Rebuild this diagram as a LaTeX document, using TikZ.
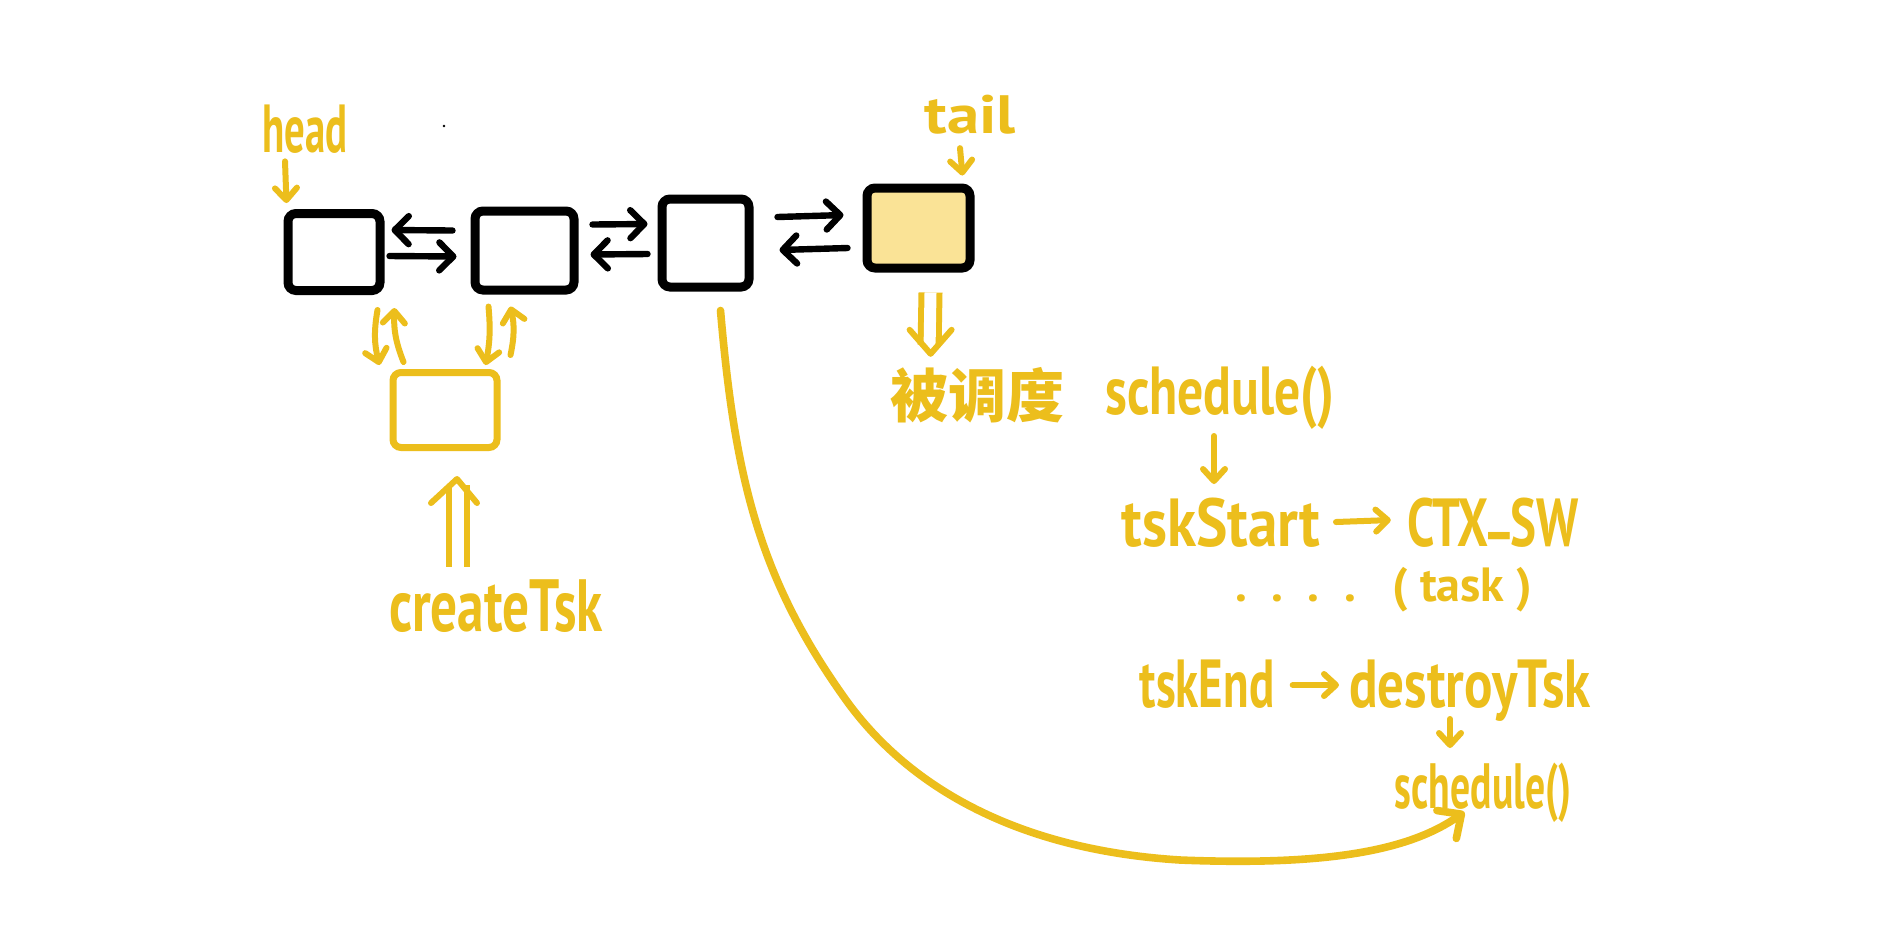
\documentclass[tikz,border=0pt]{standalone}
\usepackage{fontspec}
\usepackage{graphicx}
\setmainfont{PT Sans}
\newfontfamily\cjk{Noto Sans CJK SC}
\usetikzlibrary{arrows.meta,calc,backgrounds}
\definecolor{yel}{RGB}{236,190,28}
\definecolor{tailfill}{RGB}{250,227,150}
\definecolor{tailglow}{RGB}{252,236,190}
\newcommand{\nar}[2]{\scalebox{#1}[1]{#2}}
\begin{document}
\begin{tikzpicture}[x=0.5pt,y=-0.5pt,
  box/.style={draw=black, line width=4.5pt, rounded corners=4pt, inner sep=0pt},
  newbox/.style={draw=yel, line width=3.5pt, rounded corners=4pt, inner sep=0pt},
  blarr/.style={draw=black, line width=3.2pt, line cap=round, -{Straight Barb[length=7pt,width=14pt,round]}},
  yarr/.style={draw=yel, line width=3pt, line cap=round, -{Straight Barb[length=6pt,width=11pt,round]}},
  dbl/.style={draw=yel, line width=3pt, double=white, double distance=6pt},
  vhead/.style={draw=yel, line width=3pt, line cap=round, line join=round},
  ytext/.style={text=yel, inner sep=0pt, anchor=base, font=\bfseries\fontsize{34}{34}\selectfont},
]
\useasboundingbox[fill=white] (0,0) rectangle (1894,939);

% list boxes
\node[box, minimum width=46pt, minimum height=38.5pt] (n1) at (334,252) {};
\node[box, minimum width=49.5pt, minimum height=39.5pt] (n2) at (524.5,250.5) {};
\node[box, minimum width=43.5pt, minimum height=44pt] (n3) at (705.5,243) {};
\node[box, fill=tailfill, minimum width=51.5pt, minimum height=40pt] (n4) at (918.5,228) {};
\begin{scope}[on background layer]
  \fill[tailglow, rounded corners=8pt] ($(n4.north west)+(-6,-8)$) rectangle ($(n4.south east)+(5,14)$);
\end{scope}
\node[newbox, minimum width=52pt, minimum height=37.5pt] (n5) at (445,410) {};

% stray dot
\fill[black] (444,126) circle (0.7pt);

% texts
\node[ytext] (head) at (305,152) {\nar{0.6}{head}};
\node[ytext, font=\bfseries\fontsize{27}{27}\selectfont] (tail) at (970,133) {\nar{1.2}{tail}};
\node[text=yel, inner sep=0pt, font=\cjk\bfseries\fontsize{29}{29}\selectfont] (bd) at (977,395) {被调度};
\node[ytext] (s1) at (1220,414) {\nar{0.76}{schedule()}};
\node[ytext] (ts) at (1221,546) {\nar{0.87}{tskStart}};
\node[ytext] (ctx) at (1493,546) {\nar{0.72}{CTX\raisebox{11pt}{\_}SW}};
\node[ytext, font=\bfseries\fontsize{24}{24}\selectfont] (task) at (1384,601) {\nar{1.0}{.\ \ .\ \ .\ \ .\ \ \ (\ task\ )}};
\node[ytext] (te) at (1207,707) {\nar{0.69}{tskEnd}};
\node[ytext] (dt) at (1470,707) {\nar{0.78}{destroyTsk}};
\node[ytext, font=\bfseries\fontsize{32}{32}\selectfont] (s2) at (1483,808) {\nar{0.62}{schedule()}};
\node[ytext, font=\bfseries\fontsize{37}{37}\selectfont] (ct) at (496,631) {\nar{0.72}{createTsk}};

% black links between boxes
\draw[blarr] ($(n2.west)+(-18,-20)$) -- ($(n1.east)+(7,-22)$);
\draw[blarr] ($(n1.east)+(5,4)$) -- ($(n2.west)+(-14,6)$);
\draw[blarr] ($(n2.east)+(14,-26)$) -- ($(n3.west)+(-10,-19)$);
\draw[blarr] ($(n3.west)+(-10,11)$) -- ($(n2.east)+(12,4)$);
\draw[blarr] ($(n3.east)+(24,-26)$) -- ($(n4.west)+(-19,-13)$);
\draw[blarr] ($(n4.west)+(-15,20)$) -- ($(n3.east)+(26,7)$);

% pointers
\draw[yarr] ($(head.south)+(-20,8)$) -- ($(n1.north west)+(3,-6)$);
\draw[yarr] ($(tail.south)+(-10,14)$) -- ($(n4.north east)+(-12,-8)$);

% links to the new box
\draw[yarr] ($(n1.south east)+(-7,15)$) to[bend right=12] ($(n5.north west)+(-10,-4)$);
\draw[yarr] ($(n5.north west)+(14,-7)$) to[bend left=12] ($(n1.south east)+(10,13)$);
\draw[yarr] ($(n2.south west)+(18,12)$) to[bend left=8] ($(n5.north east)+(-15,-4)$);
\draw[yarr] ($(n5.north east)+(10,-14)$) to[bend right=12] ($(n2.south west)+(40,12)$);

% double arrow: createTsk up to the new box
\draw[dbl] ($(ct.north)+(-38,-12)$) -- ($(n5.south)+(13,34)$);
\draw[vhead] ($(n5.south)+(-14,52)$) -- ($(n5.south)+(12,28)$) -- ($(n5.south)+(32,52)$);
% double arrow: tail box down to 被调度
\draw[dbl] ($(n4.south)+(12,20)$) -- ($(bd.north west)+(40,-22)$);
\draw[vhead] ($(bd.north west)+(20,-37)$) -- ($(bd.north west)+(41,-13)$) -- ($(bd.north west)+(62,-37)$);

% flow on the right
\draw[yarr] ($(s1.base)+(-6,22)$) -- ($(ts.base)+(-7,-62)$);
\draw[yarr] ($(ts.base east)+(15,-24)$) -- ($(ctx.base west)+(-16,-26)$);
\draw[yarr] ($(te.base east)+(18,-22)$) -- ($(dt.base west)+(-10,-22)$);
\draw[yarr] ($(dt.base)+(-20,12)$) -- ($(s2.base)+(-33,-60)$);

% long curve
\draw[draw=yel, line width=3.8pt, line cap=round, -{Straight Barb[length=9pt,width=17pt,round]}]
  ($(n3.south)+(15,19)$) .. controls (735,480) and (760,580) .. (846,700)
  .. controls (910,789) and (1020,850) .. (1180,860)
  .. controls (1330,866) and (1410,850) .. ($(s2.base west)+(70,4)$);
\end{tikzpicture}
\end{document}
